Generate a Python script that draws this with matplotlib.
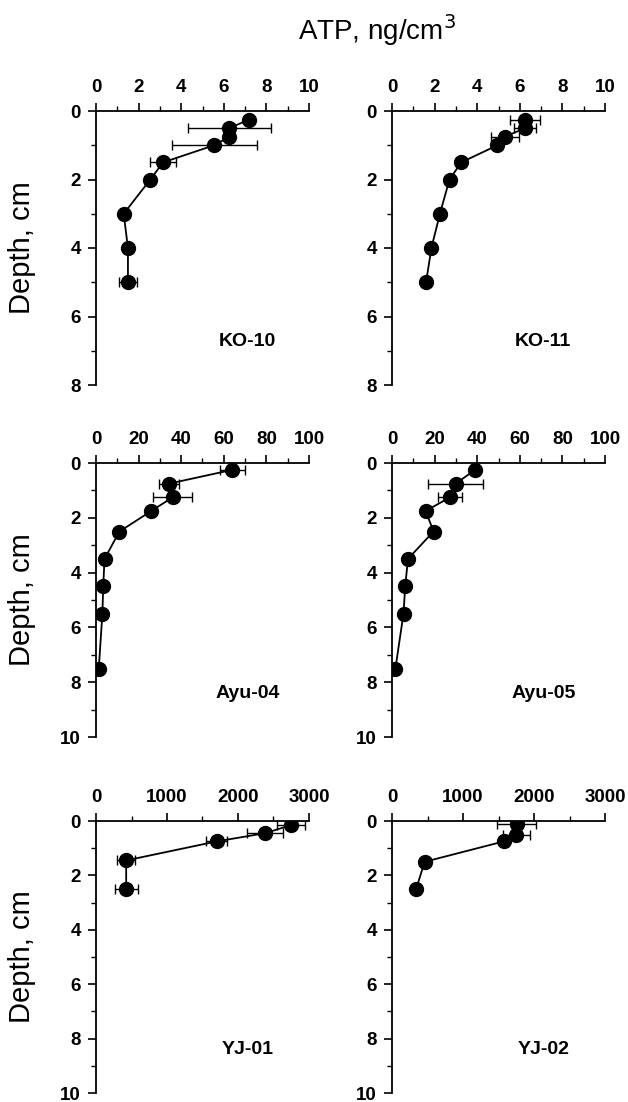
import matplotlib
matplotlib.use("Agg")
import matplotlib.pyplot as plt
from matplotlib.ticker import MultipleLocator

plt.rcParams['font.family'] = ['Liberation Sans', 'DejaVu Sans']

# ---- data (ATP, ng/cm3 vs depth, cm) ----
ko10_depth = [0.25, 0.5, 0.75, 1.0, 1.5, 2.0, 3.0, 4.0, 5.0]
ko10_atp = [7.2, 6.25, 6.25, 5.55, 3.15, 2.55, 1.3, 1.5, 1.5]
ko10_err = [0, 1.95, 0, 2.0, 0.6, 0, 0, 0, 0.43]

ko11_depth = [0.25, 0.5, 0.75, 1.0, 1.5, 2.0, 3.0, 4.0, 5.0]
ko11_atp = [6.25, 6.25, 5.3, 4.95, 3.25, 2.7, 2.25, 1.85, 1.6]
ko11_err = [0.7, 0.5, 0.67, 0, 0, 0, 0, 0, 0]

ayu04_depth = [0.25, 0.75, 1.25, 1.75, 2.5, 3.5, 4.5, 5.5, 7.5]
ayu04_atp = [64, 34.5, 36, 26, 11, 4, 3.4, 3.0, 1.3]
ayu04_err = [5.8, 4.7, 9.3, 0, 0, 0, 0, 0, 0]

ayu05_depth = [0.25, 0.75, 1.25, 1.75, 2.5, 3.5, 4.5, 5.5, 7.5]
ayu05_atp = [39, 30, 27.3, 15.8, 19.5, 7.5, 6.2, 5.4, 1.6]
ayu05_err = [0, 12.9, 5.7, 0, 0, 0, 0, 0, 0]

yj01_depth = [0.15, 0.45, 0.75, 1.45, 2.5]
yj01_atp = [2750, 2380, 1700, 425, 425]
yj01_err = [200, 250, 150, 125, 160]

yj02_depth = [0.12, 0.5, 0.75, 1.5, 2.5]
yj02_atp = [1760, 1750, 1575, 460, 340]
yj02_err = [275, 190, 0, 0, 0]

panel_names = ["KO-10", "KO-11", "Ayu-04", "Ayu-05", "YJ-01", "YJ-02"]
x_max = [10, 10, 100, 100, 3000, 3000]
x_major = [2, 2, 20, 20, 1000, 1000]
y_max = [8, 8, 10, 10, 10, 10]

panels = [
    (ko10_atp, ko10_depth, ko10_err),
    (ko11_atp, ko11_depth, ko11_err),
    (ayu04_atp, ayu04_depth, ayu04_err),
    (ayu05_atp, ayu05_depth, ayu05_err),
    (yj01_atp, yj01_depth, yj01_err),
    (yj02_atp, yj02_depth, yj02_err),
]

W, H = 628, 1102
fig = plt.figure(figsize=(W / 100, H / 100), dpi=100)

col_left = [96, 392]
col_w = 213
row_top = [111, 463, 821]
row_h = [274, 274, 272]

for i, (atp, depth, err) in enumerate(panels):
    r, c = divmod(i, 2)
    ax = fig.add_axes([col_left[c] / W, 1 - (row_top[r] + row_h[r]) / H,
                       col_w / W, row_h[r] / H])
    ax.errorbar(atp, depth, xerr=err, fmt='none', ecolor='black',
                elinewidth=1.0, capsize=3.5, capthick=1.0, zorder=2)
    ax.plot(atp, depth, '-o', color='black', markersize=10, linewidth=1.3,
            zorder=3)
    ax.set_xlim(0, x_max[i])
    ax.set_ylim(y_max[i], 0)
    ax.xaxis.set_major_locator(MultipleLocator(x_major[i]))
    ax.xaxis.set_minor_locator(MultipleLocator(x_major[i] / 2))
    ax.yaxis.set_major_locator(MultipleLocator(2))
    ax.yaxis.set_minor_locator(MultipleLocator(1))
    ax.xaxis.tick_top()
    for s in ['right', 'bottom']:
        ax.spines[s].set_visible(False)
    for s in ['top', 'left']:
        ax.spines[s].set_linewidth(1.3)
    ax.tick_params(which='major', length=6, width=1.2, pad=5, labelsize=13.5)
    ax.tick_params(which='minor', length=3.5, width=1.0)
    ax.tick_params(axis='x', which='both', top=True, bottom=False)
    for lab in ax.get_xticklabels() + ax.get_yticklabels():
        lab.set_fontweight('bold')
    ax.text(0.71, 0.16, panel_names[i], transform=ax.transAxes,
            ha='center', va='center', fontsize=14, fontweight='bold')
    ax.set_clip_on(False)
    if c == 0:
        fig.text(22 / W, 1 - (row_top[r] + row_h[r] / 2) / H, "Depth, cm",
                 rotation=90, ha='center', va='center', fontsize=21)

fig.text(377 / W, 1 - 30 / H, "ATP, ng/cm$^3$", ha='center', va='center',
         fontsize=20)

fig.savefig("out.png", dpi=100)
